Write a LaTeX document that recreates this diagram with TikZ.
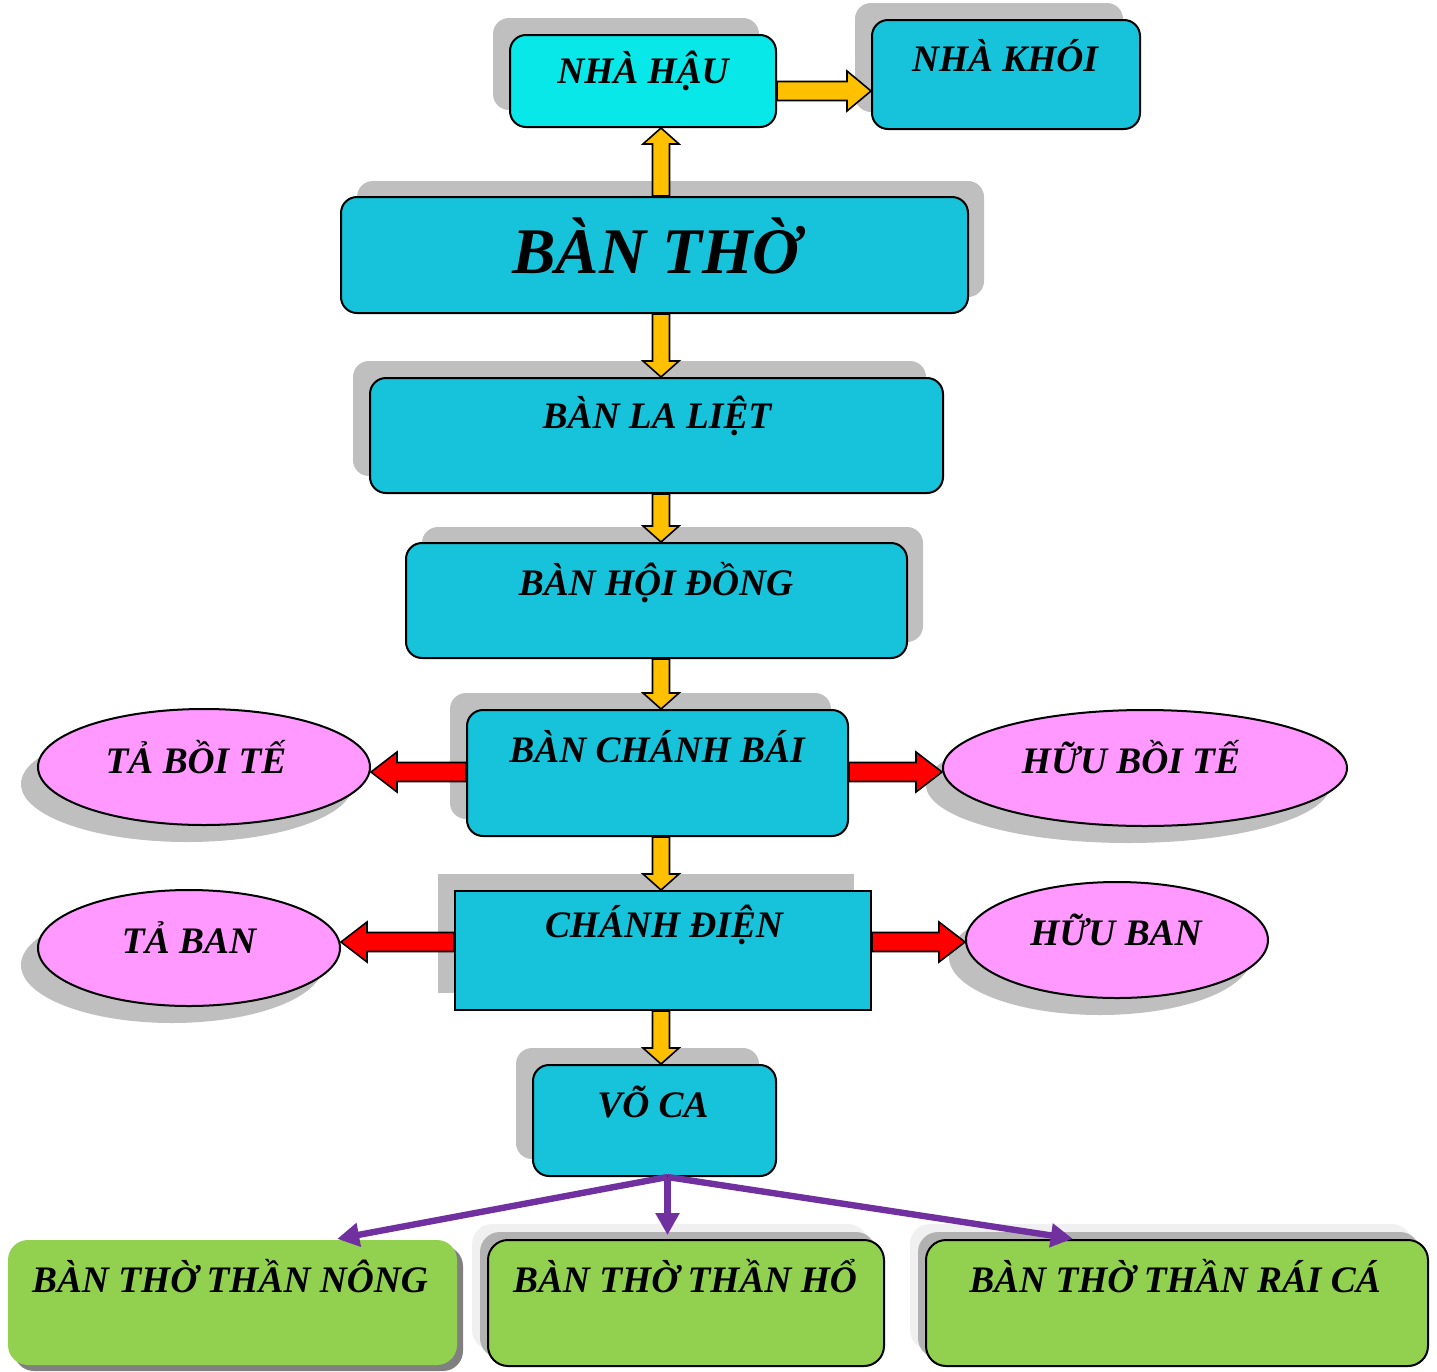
\documentclass[tikz,border=0pt]{standalone}
\usepackage{fontspec}
\setmainfont{Liberation Serif}
\usetikzlibrary{arrows.meta,positioning,shapes.geometric,shadows,calc}

\definecolor{boxcyan}{HTML}{17C3DA}
\definecolor{haucyan}{HTML}{08E8E8}
\definecolor{shadowgray}{HTML}{BFBFBF}
\definecolor{ovalpink}{HTML}{FF99FF}
\definecolor{arrowgold}{HTML}{FFC000}
\definecolor{leafgreen}{HTML}{92D050}
\definecolor{forkviolet}{HTML}{7030A0}

\begin{document}
\begin{tikzpicture}[
  x=0.5pt,
  y=-0.5pt,
  boxtext/.style={font=\bfseries\itshape\fontsize{18.7}{22}\selectfont, inner sep=0pt, anchor=base},
  bigtext/.style={boxtext, font=\bfseries\itshape\fontsize{32.5}{38}\selectfont},
  hall/.style={draw=black, line width=1pt, fill=boxcyan, rounded corners=8pt, inner sep=0pt},
  upleft/.style={drop shadow={shadow xshift=-8.5pt, shadow yshift=8.5pt, fill=shadowgray, opacity=1}},
  upright/.style={drop shadow={shadow xshift=8pt, shadow yshift=8pt, fill=shadowgray, opacity=1}},
  oval/.style={ellipse, draw=black, line width=1pt, fill=ovalpink, inner sep=0pt,
    drop shadow={shadow xshift=-8.5pt, shadow yshift=-8.5pt, fill=shadowgray, opacity=1}},
  shrine/.style={draw=black, line width=1pt, fill=leafgreen, rounded corners=10pt, inner sep=0pt,
    drop shadow={shadow xshift=-8pt, shadow yshift=8pt, fill=gray!12, opacity=1},
    drop shadow={shadow xshift=-4pt, shadow yshift=4pt, fill=gray!60, opacity=1}},
  blockarrow/.style n args={3}{to path={
    ($(\tikztostart)!#1!90:(\tikztotarget)$)
    -- ($(\tikztotarget)!#3!(\tikztostart)!#1!-90:(\tikztostart)$)
    -- ($(\tikztotarget)!#3!(\tikztostart)!#2!-90:(\tikztostart)$)
    -- (\tikztotarget)
    -- ($(\tikztotarget)!#3!(\tikztostart)!#2!90:(\tikztostart)$)
    -- ($(\tikztotarget)!#3!(\tikztostart)!#1!90:(\tikztostart)$)
    -- ($(\tikztostart)!#1!-90:(\tikztotarget)$)
    -- cycle}},
  goldarrow/.style={draw=black, line width=0.8pt, fill=arrowgold, blockarrow={4.25pt}{9pt}{8pt}},
  redarrow/.style={draw=black, line width=0.8pt, fill=red, blockarrow={4.75pt}{10pt}{13pt}},
  branch/.style={draw=forkviolet, line width=3.2pt, -{Triangle[length=11pt,width=11.5pt]}}
]
\useasboundingbox (0,0) rectangle (1437,1372);

% main line of halls
\node[hall, upleft, fill=haucyan, minimum width=133pt, minimum height=46pt] (hau) at (643,81) {};
\node[hall, upleft, minimum width=134pt, minimum height=54.5pt] (khoi) at (1006,74.5) {};
\node[hall, upright, minimum width=313.5pt, minimum height=58pt] (bantho) at (654.5,255) {};
\node[hall, upleft, minimum width=286.5pt, minimum height=57.5pt] (laliet) at (656.5,435.5) {};
\node[hall, upright, minimum width=250.5pt, minimum height=57.5pt] (hoidong) at (656.5,600.5) {};
\node[hall, upleft, minimum width=190.5pt, minimum height=63pt] (chanhbai) at (657.5,773) {};
\node[hall, upleft, sharp corners, minimum width=208pt, minimum height=59.5pt] (chanhdien) at (663,950.5) {};
\node[hall, upleft, minimum width=121.5pt, minimum height=55.5pt] (voca) at (654.5,1120.5) {};

% side altars
\node[oval, minimum width=166pt, minimum height=58pt] (taboi) at (204,767) {};
\node[oval, minimum width=202pt, minimum height=58pt] (huuboi) at (1145,768) {};
\node[oval, minimum width=151pt, minimum height=58pt] (taban) at (189,948) {};
\node[oval, minimum width=151pt, minimum height=58pt] (huuban) at (1117,940) {};

% shrines at the bottom
\node[draw=none, fill=leafgreen, rounded corners=10pt, inner sep=0pt,
  drop shadow={shadow xshift=3pt, shadow yshift=-3pt, fill=gray, opacity=1},
  minimum width=224.5pt, minimum height=62.5pt] (nong) at (232.5,1302.5) {};
\node[shrine, minimum width=198pt, minimum height=63pt] (ho) at (686,1303) {};
\node[shrine, minimum width=251pt, minimum height=63pt] (raica) at (1177,1303) {};

% texts
\node[boxtext] (hau-t) at (643,83) {NHÀ HẬU};
\node[boxtext] (khoi-t) at (1005,71) {NHÀ KHÓI};
\node[bigtext] (bantho-t) at (656,273) {BÀN THỜ};
\node[boxtext] (laliet-t) at (657,428) {BÀN LA LIỆT};
\node[boxtext] (hoidong-t) at (656,595) {BÀN HỘI ĐỒNG};
\node[boxtext] (chanhbai-t) at (657,762) {BÀN CHÁNH BÁI};
\node[boxtext] (chanhdien-t) at (664,937) {CHÁNH ĐIỆN};
\node[boxtext] (voca-t) at (653,1117) {VÕ CA};
\node[boxtext] (taboi-t) at (196,773) {TẢ BỒI TẾ};
\node[boxtext] (huuboi-t) at (1131,773) {HỮU BỒI TẾ};
\node[boxtext] (taban-t) at (189,953) {TẢ BAN};
\node[boxtext] (huuban-t) at (1116,945) {HỮU BAN};
\node[boxtext] (nong-t) at (230,1292) {BÀN THỜ THẦN NÔNG};
\node[boxtext] (ho-t) at (685,1292) {BÀN THỜ THẦN HỔ};
\node[boxtext] (raica-t) at (1175,1292) {BÀN THỜ THẦN RÁI CÁ};

% yellow connectors
\coordinate (spine) at (661,0);
\coordinate (smoke) at (0,91);
\draw[goldarrow] (bantho.north -| spine) to (hau.south -| spine);
\draw[goldarrow, blockarrow={4.75pt}{10pt}{12pt}] (hau.east |- smoke) to (khoi.west |- smoke);
\draw[goldarrow] (bantho.south -| spine) to (laliet.north -| spine);
\draw[goldarrow] (laliet.south -| spine) to (hoidong.north -| spine);
\draw[goldarrow] (hoidong.south -| spine) to (chanhbai.north -| spine);
\draw[goldarrow] (chanhbai.south -| spine) to (chanhdien.north -| spine);
\draw[goldarrow] (chanhdien.south -| spine) to (voca.north -| spine);

% red connectors
\coordinate (wingA) at (0,772);
\coordinate (wingB) at (0,942);
\draw[redarrow] (chanhbai.west |- wingA) to (taboi.east |- wingA);
\draw[redarrow] (chanhbai.east |- wingA) to (huuboi.west |- wingA);
\draw[redarrow] (chanhdien.west |- wingB) to (taban.east |- wingB);
\draw[redarrow] (chanhdien.east |- wingB) to (huuban.west |- wingB);

% violet fork
\coordinate (fork) at ([xshift=6.5pt]voca.south);
\draw[branch, shorten >=2pt] (fork) -- ($(nong.north west)!0.724!(nong.north east)$);
\draw[branch, shorten >=2pt] (fork) -- (fork |- ho.north);
\draw[branch, shorten >=1pt] (fork) -- ($(raica.north west)!0.297!(raica.north east)$);
\end{tikzpicture}
\end{document}
